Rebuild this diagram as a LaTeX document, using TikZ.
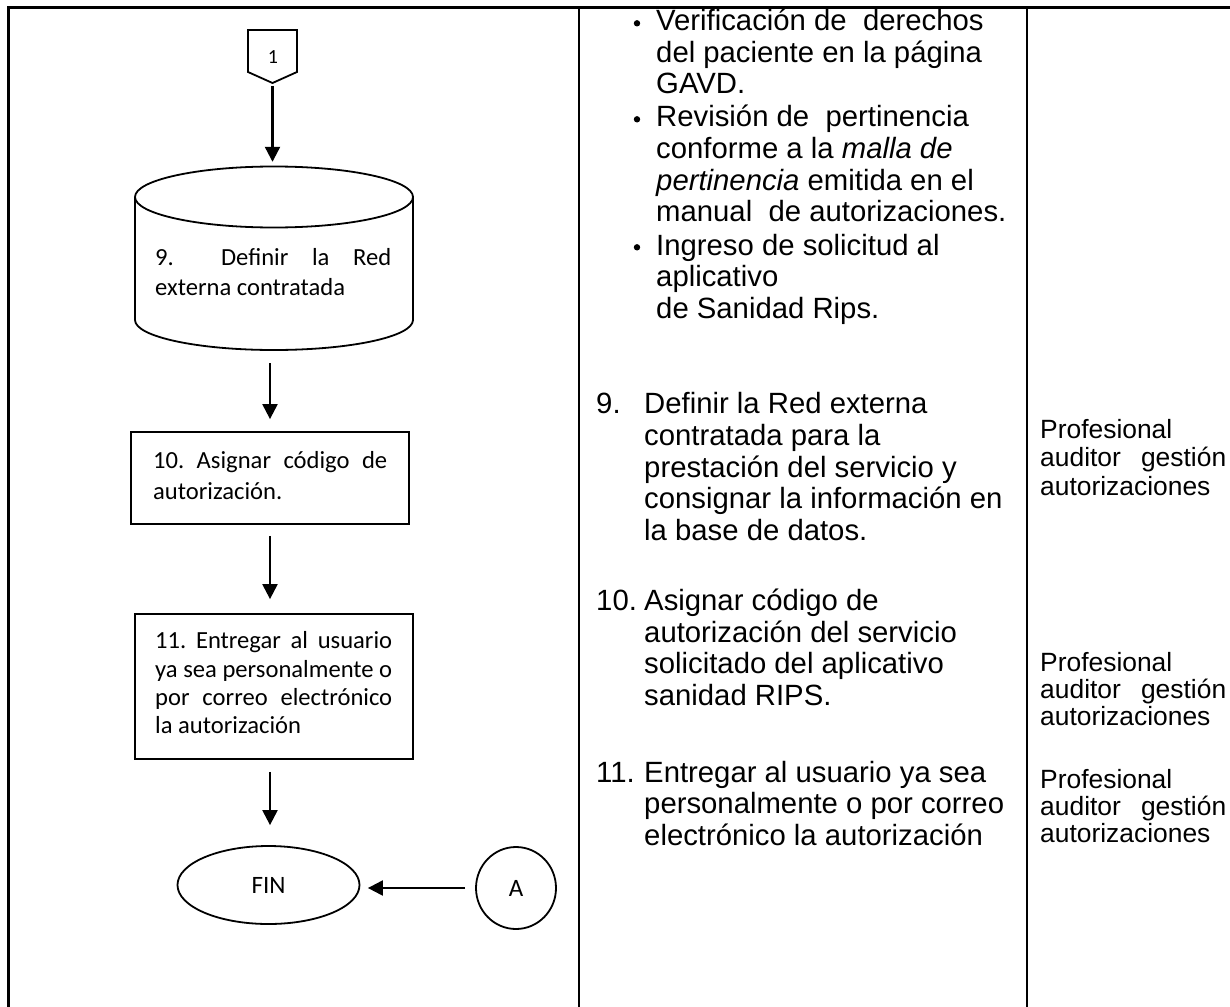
\documentclass[tikz,border=0pt]{standalone}
\usepackage{fontspec}
\setmainfont{Carlito}
\newfontfamily\arialf{Liberation Sans}
\usetikzlibrary{arrows.meta,shapes.geometric}

\begin{document}
\begin{tikzpicture}[x=1pt,y=-1pt,
  frame/.style={line width=2.4pt},
  shapeline/.style={line width=1.8pt},
  flow/.style={line width=2.2pt,-{Triangle[length=15pt,width=15pt]}},
  ltxt/.style={anchor=base west,inner sep=0pt,font=\frenchspacing\fontsize{24.6}{29}\selectfont},
  mtxt/.style={anchor=base west,inner sep=0pt,font=\arialf\fontsize{29.3}{31.7}\selectfont},
  rtxt/.style={anchor=base west,inner sep=0pt,font=\arialf\fontsize{26.4}{29}\selectfont},
  dot/.style={circle,fill,inner sep=0pt,minimum size=6.4pt},
]
\useasboundingbox (0,0) rectangle (1230,1006);

% table rules
\draw[frame] (1232,7.5) -- (8.4,7.5) -- (8.4,1008);
\draw[frame] (579,7.5) -- (579,1008);
\draw[frame] (1027,7.5) -- (1027,1008);

% off-page connector
\draw[shapeline,line join=miter] (248,30) -- (297,30) -- (297,72) -- (272.5,83) -- (248,72) -- cycle;
\node[font=\fontsize{20}{24}\selectfont] (c1) at (273,57) {1};
\coordinate (c1tip) at (272.5,83);

% database cylinder
\draw[shapeline] (274,197) ellipse [x radius=139, y radius=30.5];
\draw[shapeline] (135,197) -- (135,320) arc[start angle=180,end angle=0,x radius=139,y radius=30] -- (413,197);
\node[inner sep=0pt,minimum width=278pt,minimum height=183pt] (cyl) at (274,258.5) {};
\node[ltxt] (cylA) at (155,265) {\makebox[236pt][s]{9.\ \ Definir la Red}};
\node[ltxt] (cylB) at (155,295) {externa contratada};

% process boxes
\node[draw,shapeline,inner sep=0pt,minimum width=278pt,minimum height=92pt] (b10) at (270,478) {};
\node[ltxt] (b10A) at (153,468) {\makebox[234pt][s]{10. Asignar código de}};
\node[ltxt] (b10B) at (153,499) {autorización.};

\node[draw,shapeline,inner sep=0pt,minimum width=278pt,minimum height=145pt] (b11) at (274,686.5) {};
\node[ltxt] (b11A) at (155,648) {\makebox[237pt][s]{11. Entregar al usuario}};
\node[ltxt] (b11B) at (155,677) {\makebox[237pt][s]{ya sea personalmente o}};
\node[ltxt] (b11C) at (155,705) {\makebox[237pt][s]{por correo electrónico}};
\node[ltxt] (b11D) at (155,733) {la autorización};

% terminator and connector
\node[ellipse,draw,shapeline,inner sep=0pt,minimum width=182pt,minimum height=78pt,font=\fontsize{25}{30}\selectfont] (fin) at (268.5,885) {FIN};
\node[ellipse,draw,shapeline,inner sep=0pt,minimum width=80pt,minimum height=82pt,font=\fontsize{25}{30}\selectfont] (A) at (516,888) {A};

% flow arrows
\draw[flow,shorten <=3pt,shorten >=5pt] (c1tip) -- (c1tip |- cyl.north);
\draw[flow,shorten <=13pt,shorten >=12pt] (b10.north |- cyl.south) -- (b10.north);
\draw[flow,shorten <=11pt,shorten >=14pt] (b10.south) -- (b10.south |- b11.north);
\draw[flow,shorten <=12pt,shorten >=20pt] (b10.south |- b11.south) -- (b10.south |- fin.north);
\draw[flow,shorten <=10pt,shorten >=7.5pt] (A.west) -- (A.west -| fin.east);

% activity description
\node[dot] (d1) at (637,23.3) {};
\node[mtxt] (v1) at (656,31) {Verificación de\ \ derechos};
\node[mtxt] (v2) at (656,62.5) {del paciente en la página};
\node[mtxt] (v3) at (656,94) {GAVD.};
\node[dot] (d2) at (637,119.3) {};
\node[mtxt] (r1) at (656,127) {Revisión de\ \ pertinencia};
\node[mtxt] (r2) at (656,158.5) {conforme a la \textit{malla de}};
\node[mtxt] (r3) at (656,190) {\textit{pertinencia} emitida en el};
\node[mtxt] (r4) at (656,221.5) {manual\ \ de autorizaciones.};
\node[dot] (d3) at (637,247.3) {};
\node[mtxt] (i1) at (656,255) {Ingreso de solicitud al};
\node[mtxt] (i2) at (656,286.5) {aplicativo};
\node[mtxt] (i3) at (656,318) {de Sanidad Rips.};

\node[mtxt] (n9) at (596,413) {9.};
\node[mtxt] (s9a) at (644,413) {Definir la Red externa};
\node[mtxt] (s9b) at (644,445) {contratada para la};
\node[mtxt] (s9c) at (644,477) {prestación del servicio y};
\node[mtxt] (s9d) at (644,508) {consignar la información en};
\node[mtxt] (s9e) at (644,540) {la base de datos.};

\node[mtxt] (n10) at (596,610) {10.};
\node[mtxt] (s10a) at (644,610) {Asignar código de};
\node[mtxt] (s10b) at (644,642) {autorización del servicio};
\node[mtxt] (s10c) at (644,673) {solicitado del aplicativo};
\node[mtxt] (s10d) at (644,705) {sanidad RIPS.};

\node[mtxt] (n11) at (596,782) {11.};
\node[mtxt] (s11a) at (644,782) {Entregar al usuario ya sea};
\node[mtxt] (s11b) at (644,813) {personalmente o por correo};
\node[mtxt] (s11c) at (644,845) {electrónico la autorización};

% responsible
\foreach \y/\g [count=\k] in {438/28.5,671/27,788/27} {
  \node[rtxt] (p\k a) at (1040,\y) {Profesional};
  \node[rtxt] (p\k b) at (1040,\y+\g) {\makebox[186pt][s]{auditor gestión}};
  \node[rtxt] (p\k c) at (1040,\y+2*\g) {autorizaciones};
}
\end{tikzpicture}
\end{document}
